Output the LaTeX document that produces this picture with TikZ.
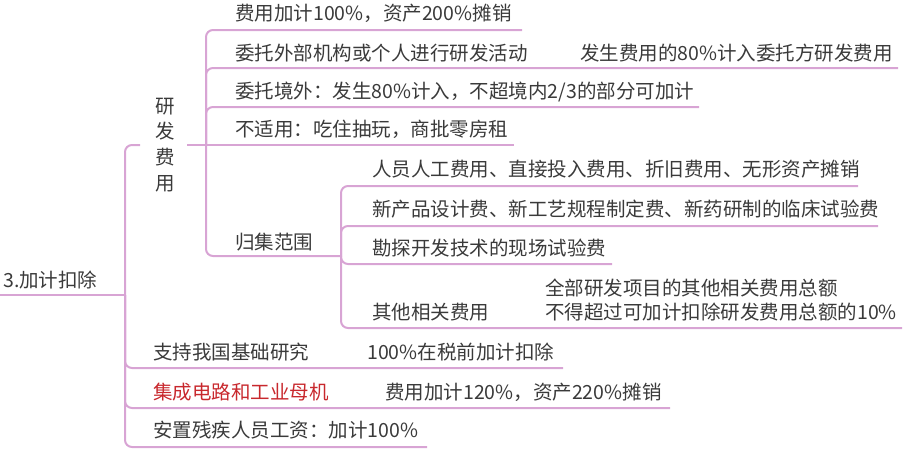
\documentclass[tikz,border=0pt]{standalone}
\usepackage{fontspec}
\setmainfont{Noto Sans CJK SC}
\definecolor{linepink}{RGB}{216,164,212}
\definecolor{textgray}{RGB}{58,58,58}
\definecolor{textred}{RGB}{200,40,45}
\begin{document}
\begin{tikzpicture}[x=1pt,y=-1pt,
  txt/.style={anchor=base west,inner sep=0pt,font=\fontsize{19.5}{22}\selectfont,text=textgray},
  redtxt/.style={txt,text=textred},
  br/.style={draw=linepink,line width=2pt,rounded corners=7pt},
]
\useasboundingbox (0,0) rectangle (905,450);

% junctions and line ends
\coordinate (rootL) at (0,295);
\coordinate (rootJ) at (125,295);
\coordinate (yfIn) at (140,145);
\coordinate (yfOut) at (187,145);
\coordinate (yfJ) at (206,145);
\coordinate (gjJ) at (341,256);
\coordinate (aE) at (522,30);
\coordinate (bE) at (898,68);
\coordinate (cE) at (699,107);
\coordinate (dE) at (514,145);
\coordinate (g1E) at (858,186);
\coordinate (g2E) at (878,226);
\coordinate (g3E) at (612,264);
\coordinate (g4E) at (902,328);
\coordinate (s1E) at (563,368);
\coordinate (s2E) at (670,408);
\coordinate (s3E) at (427,447);

% connectors
\draw[br] (rootL) -- (rootJ);
\draw[br] (rootJ) |- (yfIn);
\draw[br] (yfJ) |- (aE);
\draw[br] (yfJ) |- (bE);
\draw[br] (yfJ) |- (cE);
\draw[br] (yfOut) -- (dE);
\draw[br] (yfJ) |- (gjJ);
\draw[br] (gjJ) |- (g1E);
\draw[br] (gjJ) |- (g2E);
\draw[br] (gjJ) |- (g3E);
\draw[br] (gjJ) |- (g4E);
\draw[br] (rootJ) |- (s1E);
\draw[br] (rootJ) |- (s2E);
\draw[br] (rootJ) |- (s3E);

% texts
\node[txt] (root) at (3,287.5) {3.加计扣除};
\node[anchor=center,inner sep=0pt,align=center,text=textgray,
      font=\fontsize{19.5}{25.8}\selectfont] (yf) at (165,145) {研\\发\\费\\用};
\node[txt] (a) at (235,20.5) {费用加计100\%，资产200\%摊销};
\node[txt] (b) at (235,60) {委托外部机构或个人进行研发活动};
\node[txt] (b1) at (580,60) {发生费用的80\%计入委托方研发费用};
\node[txt] (c) at (235,98.5) {委托境外：发生80\%计入，不超境内2/3的部分可加计};
\node[txt] (d) at (235,136.5) {不适用：吃住抽玩，商批零房租};
\node[txt] (gj) at (235,249) {归集范围};
\node[txt] (g1) at (372,176.5) {人员人工费用、直接投入费用、折旧费用、无形资产摊销};
\node[txt] (g2) at (372,216) {新产品设计费、新工艺规程制定费、新药研制的临床试验费};
\node[txt] (g3) at (372,255.5) {勘探开发技术的现场试验费};
\node[txt] (g4) at (372,319) {其他相关费用};
\node[txt] (g41) at (545,295) {全部研发项目的其他相关费用总额};
\node[txt] (g42) at (545,319) {不得超过可加计扣除研发费用总额的10\%};
\node[txt] (s1) at (153,359) {支持我国基础研究};
\node[txt] (s11) at (367,359) {100\%在税前加计扣除};
\node[redtxt] (s2) at (153,399) {集成电路和工业母机};
\node[txt] (s21) at (385,399) {费用加计120\%，资产220\%摊销};
\node[txt] (s3) at (153,437.5) {安置残疾人员工资：加计100\%};
\end{tikzpicture}
\end{document}
